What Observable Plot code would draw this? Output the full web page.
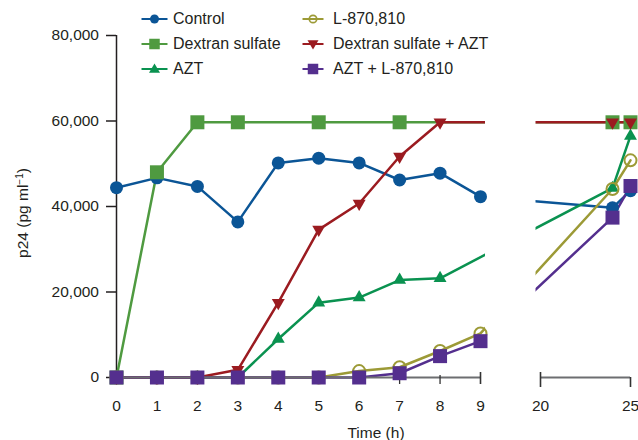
<!DOCTYPE html>
<html>
<head>
<meta charset="utf-8">
<script src="https://cdn.jsdelivr.net/npm/d3@7"></script>
<script src="https://cdn.jsdelivr.net/npm/@observablehq/plot@0.6"></script>
<style>
  body { margin: 0; background: #fff; }
  #wrap { position: relative; width: 638px; height: 440px; overflow: hidden;
          font-family: "Liberation Sans", Arial, Helvetica, sans-serif; color: #231f20; background: #fff; }
  #chart { position: absolute; left: 0; top: 0; }
  .legsw { position: absolute; }
  .legtx { position: absolute; font-size: 16px; line-height: 16px; white-space: nowrap; }
  #ylab { position: absolute; left: 23px; top: 213px; font-size: 15.5px; line-height: 15.5px; white-space: nowrap;
          transform: translate(-50%, -50%) rotate(-90deg); }
  #ylab sup { font-size: 10px; vertical-align: 5px; line-height: 0; }
  #xlab { position: absolute; left: 376px; top: 424.7px; font-size: 15.5px; line-height: 15.5px; white-space: nowrap;
          transform: translateX(-50%); }
</style>
</head>
<body>
<div id="wrap">
  <div id="chart"></div>
  <div id="legend"></div>
  <div id="ylab">p24 (pg ml<sup>−1</sup>)</div>
  <div id="xlab">Time (h)</div>
</div>
<script>
// ---- data ----
const seriesNames = ["Control", "Dextran sulfate", "AZT", "L-870,810", "Dextran sulfate + AZT", "AZT + L-870,810"];

const controlHours = [0, 1, 2, 3, 4, 5, 6, 7, 8, 9, 24, 25];
const controlP24   = [44400, 46700, 44700, 36400, 50200, 51300, 50200, 46200, 47800, 42300, 39700, 43700];

const dextranHours = [0, 1, 2, 3, 5, 7, 24, 25];
const dextranP24   = [0, 48000, 59700, 59700, 59700, 59700, 59700, 59700];

const aztHours = [0, 1, 2, 3, 4, 5, 6, 7, 8, 24, 25];
const aztP24   = [0, 0, 0, 0, 9000, 17500, 18700, 22800, 23200, 44300, 56500];

const lHours = [0, 1, 2, 3, 4, 5, 6, 7, 8, 9, 24, 25];
const lP24   = [0, 0, 0, 0, 0, 0, 1500, 2400, 6200, 10300, 44100, 50800];

const dexAztHours = [0, 1, 2, 3, 4, 5, 6, 7, 8, 24, 25];
const dexAztP24   = [0, 0, 0, 1800, 17500, 34600, 40700, 51700, 59700, 59700, 59700];

const aztLHours = [0, 1, 2, 3, 4, 5, 6, 7, 8, 9, 24, 25];
const aztLP24   = [0, 0, 0, 0, 0, 0, 0, 1000, 5000, 8500, 37400, 44800];

const xTicksEarly = [0, 1, 2, 3, 4, 5, 6, 7, 8, 9];
const xTicksLate = [20, 25];
const yTicks = [0, 20000, 40000, 60000, 80000];

// ---- styles ----
const styles = [
  {color: "#0b5596", symbol: "circle",   r: 6.5},
  {color: "#4f9a40", symbol: "square",   r: 7.9},
  {color: "#0a9250", symbol: "triangle", r: 4.8},
  {color: "#9c9a36", symbol: "circle",   r: 6, open: true},
  {color: "#9b1b20", symbol: "triangle", r: 4.8, rotate: 180},
  {color: "#542f8e", symbol: "square",   r: 7.9}
];

const seriesData = [
  [controlHours, controlP24], [dextranHours, dextranP24], [aztHours, aztP24],
  [lHours, lP24], [dexAztHours, dexAztP24], [aztLHours, aztLP24]
].map(([h, v], k) => h.map((hour, i) => ({series: seriesNames[k], hour, p24: v[i]})));

const font = `"Liberation Sans", Arial, Helvetica, sans-serif`;
const ink = "#231f20";
const axisGray = "#6d6e71";
const yMax = d3.max(yTicks);

const lineMarks = seriesData.map((d, k) =>
  Plot.line(d, {x: "hour", y: "p24", stroke: styles[k].color, strokeWidth: 2.5, strokeLinejoin: "round"}));

const dotMarks = seriesData.map((d, k) => {
  const s = styles[k];
  const o = {x: "hour", y: "p24", symbol: s.symbol, r: s.r};
  if (s.rotate) o.rotate = s.rotate;
  if (s.open) { o.fill = "none"; o.stroke = s.color; o.strokeWidth = 2; }
  else { o.fill = s.color; }
  return Plot.dot(d, o);
});

const gapSpan = [{x1: d3.max(xTicksEarly), x2: d3.min(xTicksLate)}];
const innerTicks = xTicksEarly.slice(0, -1);
const endTickEarly = xTicksEarly.slice(-1);

const chart = Plot.plot({
  width: 638, height: 440,
  marginTop: 35, marginBottom: 63, marginLeft: 116, marginRight: 8,
  style: {fontFamily: font, fontSize: "15.5px", color: ink, background: "transparent"},
  x: {type: "linear",
      domain: [d3.min(xTicksEarly), d3.max(xTicksEarly), d3.min(xTicksLate), d3.max(xTicksLate)],
      range: [116, 480, 540, 630], axis: null},
  y: {domain: [0, yMax], axis: null},
  marks: [
    Plot.ruleX([0], {x: d => d, y1: 0, y2: yMax, stroke: ink, strokeWidth: 1.5}),
    Plot.axisY({ticks: yTicks, tickSize: 10, tickPadding: 7.5, tickFormat: d3.format(","),
                stroke: ink, strokeWidth: 1.5, fontSize: 15.5, label: null}),
    ...lineMarks,
    Plot.rect(gapSpan, {x1: "x1", x2: "x2", y1: 0, y2: yMax, fill: "white", insetLeft: 5, insetRight: 4.5, insetBottom: 2}),
    Plot.ruleY([0], {y: d => d, x1: d3.min(xTicksEarly), x2: d3.max(xTicksEarly), stroke: axisGray, strokeWidth: 2}),
    Plot.ruleY([0], {y: d => d, x1: d3.min(xTicksLate), x2: d3.max(xTicksLate), stroke: axisGray, strokeWidth: 2}),
    Plot.ruleX(innerTicks, {x: d => d, y1: 0, y2: 0, insetTop: -2, insetBottom: -7, stroke: "#333", strokeWidth: 1.3}),
    Plot.ruleX(endTickEarly, {x: d => d, y1: 0, y2: 0, insetTop: -5, insetBottom: -7, stroke: "#333", strokeWidth: 1.6}),
    Plot.ruleX(xTicksLate.slice(0, 1), {x: d => d, y1: 0, y2: 0, insetTop: -5, insetBottom: -10, stroke: "#333", strokeWidth: 1.6}),
    Plot.ruleX(xTicksLate.slice(1), {x: d => d, y1: 0, y2: 0, insetTop: 0, insetBottom: -10, stroke: "#333", strokeWidth: 1.6}),
    Plot.axisX({ticks: xTicksEarly.concat(xTicksLate), tickSize: 0, tickPadding: 22.5, fontSize: 15.5, label: null}),
    ...dotMarks
  ]
});
document.getElementById("chart").appendChild(chart);

// ---- legend ----
function swatch(s, w) {
  const cx = w === 27 ? 13.5 : 11, cy = 8;
  let m = "";
  if (s.symbol === "circle" && !s.open) m = `<circle cx="${cx}" cy="${cy}" r="4.5" fill="${s.color}"/>`;
  else if (s.open) m = `<circle cx="${cx}" cy="${cy}" r="3.7" fill="none" stroke="${s.color}" stroke-width="1.7"/>`;
  else if (s.symbol === "square") m = `<rect x="${cx - 5.25}" y="${cy - 5.25}" width="10.5" height="10.5" fill="${s.color}"/>`;
  else if (s.rotate) m = `<polygon points="${cx - 5.5},${cy - 3.8} ${cx + 5.5},${cy - 3.8} ${cx},${cy + 5.6}" fill="${s.color}"/>`;
  else m = `<polygon points="${cx - 5.5},${cy + 3.8} ${cx + 5.5},${cy + 3.8} ${cx},${cy - 5.6}" fill="${s.color}"/>`;
  return `<svg width="${w}" height="16" viewBox="0 0 ${w} 16"><line x1="0.5" x2="${w - 0.5}" y1="8" y2="8" stroke="${s.color}" stroke-width="2"/>${m}</svg>`;
}
const legend = document.getElementById("legend");
seriesNames.forEach((name, k) => {
  const col = Math.floor(k / 3), row = k % 3;
  const cy = 18.6 + row * 25.2;
  const sw = document.createElement("div");
  sw.className = "legsw";
  const w = col === 0 ? 27 : 22;
  sw.style.left = (col === 0 ? 141 : 302) + "px";
  sw.style.top = (cy - 8) + "px";
  sw.innerHTML = swatch(styles[k], w);
  legend.appendChild(sw);
  const tx = document.createElement("div");
  tx.className = "legtx";
  tx.style.left = (col === 0 ? 173 : 333) + "px";
  tx.style.top = (cy - 7.8) + "px";
  tx.textContent = name;
  legend.appendChild(tx);
});
</script>
</body>
</html>
